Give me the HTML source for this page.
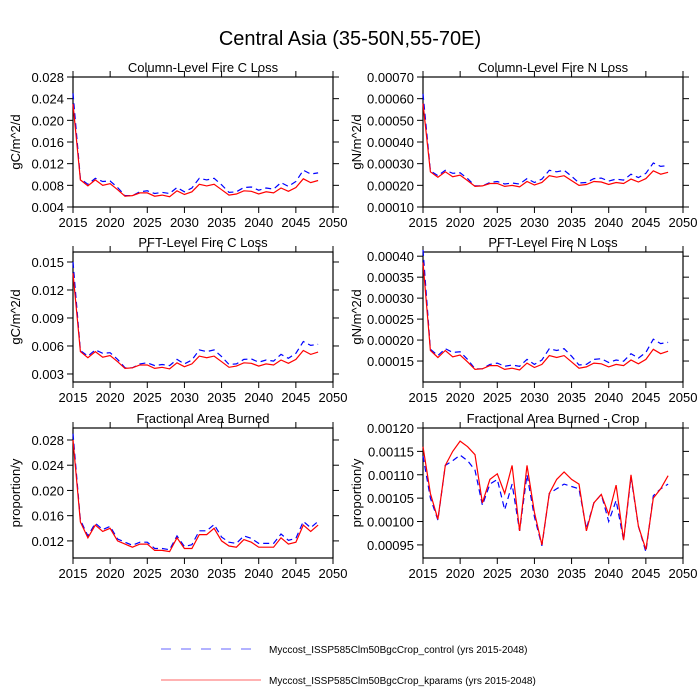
<!DOCTYPE html>
<html><head><style>body{margin:0;background:#fff}svg{display:block;font-family:"Liberation Sans",sans-serif}</style></head>
<body><svg id="s" width="700" height="700" xmlns="http://www.w3.org/2000/svg"></svg>
<script>
const s=document.getElementById('s');let h='';
h+='<text x="350" y="45" font-size="20" text-anchor="middle">Central Asia (35-50N,55-70E)</text>';
const C=[0.023,0.009,0.0079,0.009,0.008,0.0083,0.0072,0.006,0.0061,0.0066,0.0066,0.006,0.0062,0.0059,0.007,0.0063,0.0068,0.0082,0.0079,0.0082,0.0072,0.0062,0.0064,0.007,0.0069,0.0064,0.0068,0.0066,0.0075,0.0069,0.0076,0.0092,0.0085,0.0089];
const CB=[0.025,0.0092,0.0082,0.0093,0.0087,0.0088,0.0076,0.0061,0.0061,0.0068,0.007,0.0065,0.0067,0.0065,0.0076,0.0068,0.0075,0.0093,0.009,0.0093,0.0081,0.0067,0.0068,0.0076,0.0077,0.0071,0.0075,0.0073,0.0085,0.0078,0.0087,0.0108,0.0101,0.0103];
const F=[0.028,0.015,0.0125,0.0145,0.0135,0.014,0.012,0.0115,0.011,0.0115,0.0115,0.0105,0.0105,0.0103,0.0125,0.0108,0.0108,0.013,0.013,0.014,0.012,0.0112,0.011,0.0122,0.0118,0.011,0.011,0.011,0.0125,0.0115,0.0118,0.0145,0.0135,0.0145];
const FB=F.map((v,i)=>i==0?0.029:v+(i>15?0.0006:0.0003));
const R=[0.00116,0.00106,0.001005,0.00112,0.00115,0.001172,0.00116,0.001143,0.00104,0.00109,0.001102,0.00106,0.00112,0.00098,0.00112,0.00102,0.00095,0.00106,0.00109,0.001106,0.00109,0.00108,0.00098,0.00104,0.001058,0.001015,0.001078,0.00096,0.0011,0.00099,0.00094,0.00105,0.00107,0.001098];
const RB=[0.00114,0.00105,0.001003,0.00112,0.00113,0.001142,0.00113,0.00111,0.001035,0.00108,0.00109,0.001025,0.00108,0.00098,0.0011,0.00101,0.000948,0.00106,0.00107,0.00108,0.001075,0.00107,0.000985,0.00104,0.001058,0.001,0.001045,0.00096,0.001095,0.00099,0.000935,0.001055,0.00107,0.00108];
const P=[
{x:73,y:77,t:'Column-Level Fire C Loss',yl:'gC/m^2/d',lo:0.004,hi:0.028,ticks:[0.004,0.008,0.012,0.016,0.020,0.024,0.028],d:3,r:C,b:CB},
{x:423,y:77,t:'Column-Level Fire N Loss',yl:'gN/m^2/d',lo:0.0001,hi:0.0007,ticks:[0.0001,0.0002,0.0003,0.0004,0.0005,0.0006,0.0007],d:5,r:C.map(v=>0.00006+v*0.0225),b:CB.map(v=>0.00006+v*0.0225)},
{x:73,y:252,t:'PFT-Level Fire C Loss',yl:'gC/m^2/d',lo:0.00214,hi:0.01607,ticks:[0.003,0.006,0.009,0.012,0.015],d:3,r:C.map(v=>v*0.6),b:CB.map(v=>v*0.6)},
{x:423,y:252,t:'PFT-Level Fire N Loss',yl:'gN/m^2/d',lo:0.0001,hi:0.00041,ticks:[0.00015,0.0002,0.00025,0.0003,0.00035,0.0004],d:5,r:C.map(v=>0.00004+v*0.015),b:CB.map(v=>0.00004+v*0.015)},
{x:73,y:428,t:'Fractional Area Burned',yl:'proportion/y',lo:0.00929,hi:0.0299,ticks:[0.012,0.016,0.020,0.024,0.028],d:3,r:F,b:FB},
{x:423,y:428,t:'Fractional Area Burned - Crop',yl:'proportion/y',lo:0.000922,hi:0.0012,ticks:[0.00095,0.001,0.00105,0.0011,0.00115,0.0012],d:5,r:R,b:RB}];
const W=260,H=130;
for(const p of P){
 const X=yr=>p.x+(yr-2015)*W/35, Y=v=>p.y+H-(v-p.lo)/(p.hi-p.lo)*H;
 h+=`<text x="${p.x+W/2}" y="${p.y-5}" font-size="13" text-anchor="middle">${p.t}</text>`;
 h+=`<rect x="${p.x}" y="${p.y}" width="${W}" height="${H}" fill="none" stroke="#000" stroke-width="1.2"/>`;
 for(let yr=2015;yr<=2050;yr+=5){const x=X(yr);h+=`<line x1="${x}" x2="${x}" y1="${p.y+H}" y2="${p.y+H+6}" stroke="#000"/><line x1="${x}" x2="${x}" y1="${p.y}" y2="${p.y-6}" stroke="#000"/><text x="${x}" y="${p.y+H+20}" font-size="13" text-anchor="middle">${yr}</text>`;}
 for(const t of p.ticks){const y=Y(t);h+=`<line x1="${p.x-6}" x2="${p.x}" y1="${y}" y2="${y}" stroke="#000"/><line x1="${p.x+W}" x2="${p.x+W+6}" y1="${y}" y2="${y}" stroke="#000"/><text x="${p.x-9}" y="${y+5}" font-size="13" text-anchor="end">${t.toFixed(p.d)}</text>`;}
 h+=`<text transform="translate(${p.x-(p.d==3?53:62)},${p.y+H/2}) rotate(-90)" font-size="13" text-anchor="middle">${p.yl}</text>`;
 const pts=a=>a.map((v,i)=>X(2015+i).toFixed(1)+','+Y(v).toFixed(1)).join(' ');
 h+=`<polyline points="${pts(p.b)}" fill="none" stroke="#00f" stroke-width="1.2" stroke-dasharray="6,4"/>`;
 h+=`<polyline points="${pts(p.r)}" fill="none" stroke="#f00" stroke-width="1.2"/>`;
}
h+='<line x1="161" x2="261" y1="649" y2="649" stroke="#66f" stroke-dasharray="10,10"/><text x="269" y="653" font-size="10">Myccost_ISSP585Clm50BgcCrop_control (yrs 2015-2048)</text>';
h+='<line x1="161" x2="261" y1="680" y2="680" stroke="#f66"/><text x="269" y="684" font-size="10">Myccost_ISSP585Clm50BgcCrop_kparams (yrs 2015-2048)</text>';
s.innerHTML=h;
</script></body></html>
